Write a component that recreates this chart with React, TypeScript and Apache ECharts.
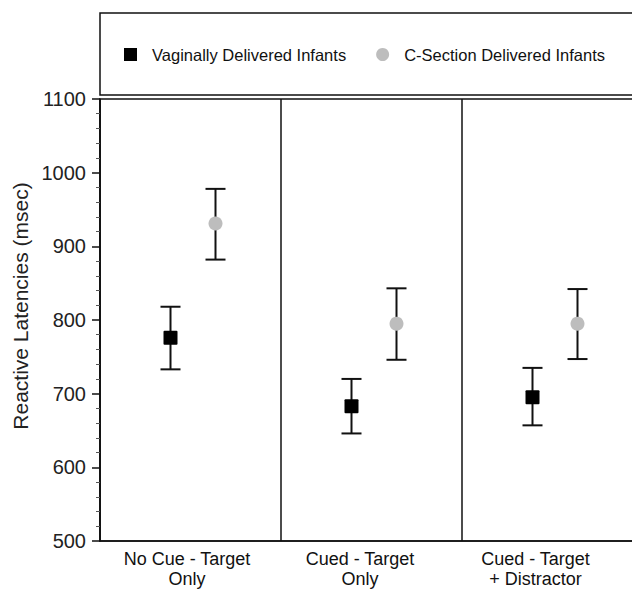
import React, { useEffect, useRef } from "react";
import * as echarts from "echarts";

const categories = ["No Cue - Target\nOnly", "Cued - Target\nOnly", "Cued - Target\n+ Distractor"];
const seriesNames = ["Vaginally Delivered Infants", "C-Section Delivered Infants"];
const vaginalMean = [776, 683, 695];
const vaginalLow = [733, 646, 657];
const vaginalHigh = [818, 720, 735];
const csectionMean = [931, 795, 795];
const csectionLow = [882, 746, 747];
const csectionHigh = [978, 843, 842];
const yTicks = { min: 500, max: 1100, interval: 100 };

const FONT = "Liberation Sans, Arial, Helvetica, sans-serif";
const labelShift = [7, 23, 34];

function makeRender(offset: number, shape: "rect" | "circle", color: string) {
  return (params: any, api: any) => {
    const i = api.value(0);
    const p = api.coord([i, api.value(1)]);
    const pl = api.coord([i, api.value(2)]);
    const ph = api.coord([i, api.value(3)]);
    const cx = p[0] + offset;
    const cap = 10;
    const ls = { stroke: "#111", lineWidth: 2 };
    const marker =
      shape === "rect"
        ? { type: "rect", shape: { x: cx - 7, y: p[1] - 7, width: 14, height: 14, r: 1 }, style: { fill: color } }
        : { type: "circle", shape: { cx, cy: p[1], r: 7 }, style: { fill: color } };
    return {
      type: "group",
      children: [
        { type: "line", shape: { x1: cx, y1: ph[1], x2: cx, y2: pl[1] }, style: ls },
        { type: "line", shape: { x1: cx - cap, y1: ph[1], x2: cx + cap, y2: ph[1] }, style: ls },
        { type: "line", shape: { x1: cx - cap, y1: pl[1], x2: cx + cap, y2: pl[1] }, style: ls },
        marker,
      ],
    };
  };
}

export default function App() {
  const ref = useRef<HTMLDivElement>(null);
  useEffect(() => {
    document.body.style.margin = "0";
    document.body.style.overflow = "hidden";
    const chart = echarts.init(ref.current!, null, { renderer: "svg" });
    const vData = categories.map((_, i) => [i, vaginalMean[i], vaginalLow[i], vaginalHigh[i]]);
    const cData = categories.map((_, i) => [i, csectionMean[i], csectionLow[i], csectionHigh[i]]);
    chart.setOption({
      animation: false,
      backgroundColor: "#fff",
      textStyle: { fontFamily: FONT },
      graphic: [
        {
          type: "rect",
          shape: { x: 100, y: 13, width: 600, height: 82 },
          style: { fill: "none", stroke: "#111", lineWidth: 1.5 },
          silent: true,
        },
      ],
      legend: {
        left: 124,
        top: 46,
        padding: 0,
        itemWidth: 13,
        itemHeight: 13,
        itemGap: 30,
        textStyle: { fontSize: 16.5, color: "#111", fontFamily: FONT, padding: [0, 0, 0, 10] },
        data: [
          { name: seriesNames[0], icon: "rect", itemStyle: { color: "#000" } },
          { name: seriesNames[1], icon: "circle", itemStyle: { color: "#bdbdbd" } },
        ],
      },
      grid: {
        left: 100,
        top: 99,
        width: 543,
        height: 442,
        outerBoundsMode: "none",
        containLabel: false,
        show: true,
        borderColor: "#111",
        borderWidth: 1.5,
        backgroundColor: "transparent",
      },
      xAxis: {
        type: "category",
        data: categories.map((c, i) => ({ value: c, textStyle: { padding: [0, labelShift[i], 0, 0] } })),
        boundaryGap: true,
        axisLine: { show: true, lineStyle: { color: "#111", width: 1.5 } },
        axisTick: { show: false },
        splitLine: { show: true, lineStyle: { color: "#111", width: 1.5 } },
        axisLabel: {
          color: "#111",
          fontSize: 18,
          lineHeight: 20,
          margin: 8,
          fontFamily: FONT,
        },
      },
      yAxis: {
        type: "value",
        min: yTicks.min,
        max: yTicks.max,
        interval: yTicks.interval,
        name: "Reactive Latencies (msec)",
        nameLocation: "middle",
        nameGap: 68,
        nameTextStyle: { fontSize: 21, color: "#222", fontFamily: FONT, padding: [0, 0, 0, 28] },
        axisLine: { show: true, lineStyle: { color: "#111", width: 1.5 } },
        axisTick: { show: true, inside: false, length: 8, lineStyle: { color: "#111", width: 1.5 } },
        minorTick: { show: true, splitNumber: 5, length: 4, lineStyle: { color: "#555", width: 1 } },
        splitLine: { show: false },
        axisLabel: {
          color: "#222",
          fontSize: 20,
          margin: 14,
          fontFamily: FONT,
          formatter: (v: number) => String(v),
        },
      },
      series: [
        {
          name: seriesNames[0],
          type: "custom",
          itemStyle: { color: "#000" },
          encode: { x: 0, y: [1, 2, 3] },
          renderItem: makeRender(-20, "rect", "#000"),
          data: vData,
        },
        {
          name: seriesNames[1],
          type: "custom",
          itemStyle: { color: "#bdbdbd" },
          encode: { x: 0, y: [1, 2, 3] },
          renderItem: makeRender(25, "circle", "#bdbdbd"),
          data: cData,
        },
      ],
    });
    return () => chart.dispose();
  }, []);
  return (
    <div style={{ width: 632, height: 591, overflow: "hidden" }}>
      <div ref={ref} style={{ width: 680, height: 591 }} />
    </div>
  );
}
